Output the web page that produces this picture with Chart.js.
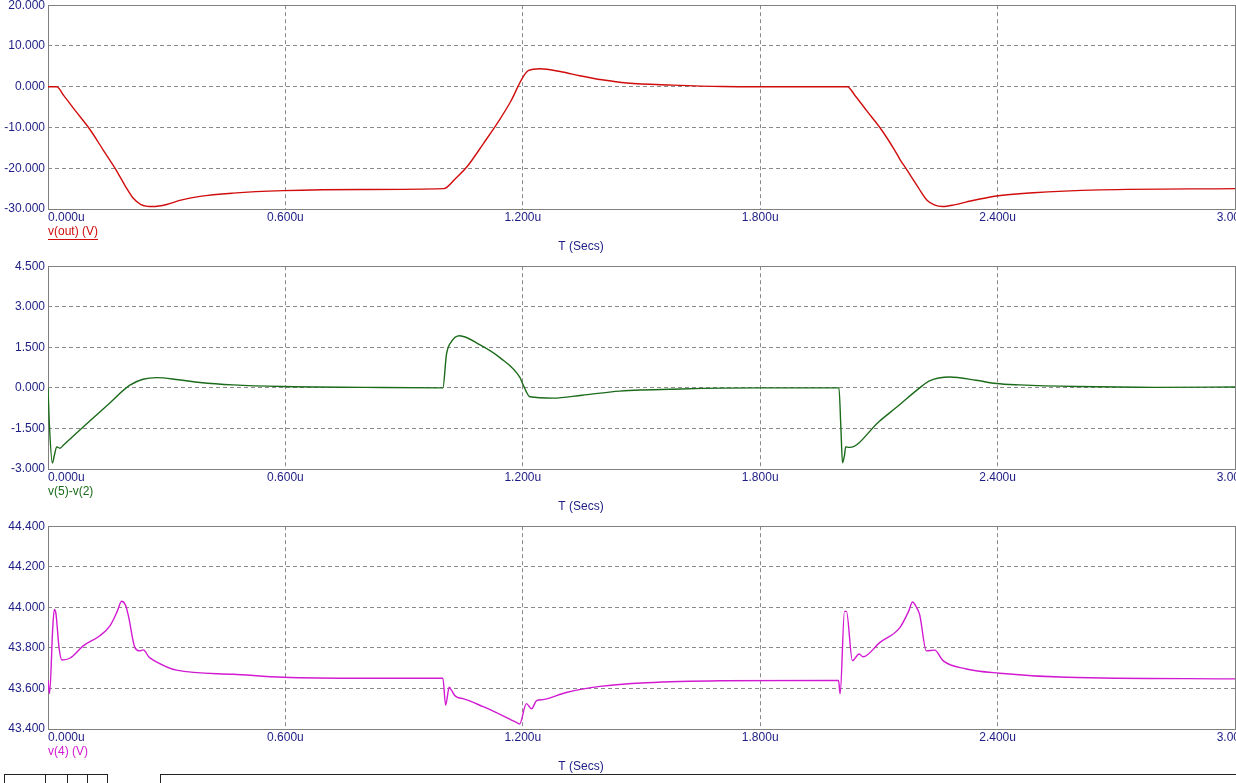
<!DOCTYPE html>
<html>
<head>
<meta charset="utf-8">
<script src="https://cdn.jsdelivr.net/npm/chart.js@4/dist/chart.umd.min.js"></script>
<style>
  html, body { margin: 0; padding: 0; background: #fff; overflow: hidden; width: 1236px; height: 783px; }
  canvas { position: absolute; left: 0; }
  #c1 { top: -5px; }
  #c2 { top: 256px; }
  #c3 { top: 516px; }
  .bar { position: absolute; top: 774px; height: 12px; border: 1px solid #222; box-sizing: border-box; }
</style>
</head>
<body>
<canvas id="c1" width="1300" height="265"></canvas>
<canvas id="c2" width="1300" height="265"></canvas>
<canvas id="c3" width="1300" height="265"></canvas>
<div class="bar" style="left:4px;width:104px;"></div>
<div class="bar" style="left:45px;width:23px;border-top:none;border-bottom:none;"></div>
<div class="bar" style="left:87px;width:1px;border-top:none;border-bottom:none;border-right:none;"></div>
<div class="bar" style="left:160px;width:1080px;"></div>
<script>
// time axis (microseconds)
var xTicks = [0, 0.6, 1.2, 1.8, 2.4, 3.0];

// v(out) (V)
var tOut = [0, 0.022, 0.04, 0.07, 0.106, 0.14, 0.17, 0.195, 0.215, 0.235, 0.265, 0.3, 0.333, 0.384, 0.468, 0.594, 0.8, 1.0,
            1.03, 1.06, 1.1, 1.142, 1.17, 1.2, 1.215, 1.243, 1.3, 1.344, 1.4, 1.463, 1.58, 1.705, 1.8, 2.0,
            2.02, 2.04, 2.07, 2.106, 2.14, 2.153, 2.17, 2.2, 2.223, 2.24, 2.261, 2.29, 2.32, 2.397, 2.49, 2.66, 3.0];
var vOut = [0, 0, -2.2, -6.0, -10.5, -15.6, -20.1, -24.3, -27.3, -28.9, -29.4, -28.9, -27.9, -26.9, -26.1, -25.5, -25.2, -25,
            -22.5, -19.5, -14, -8, -3.5, 2.3, 4.0, 4.4, 3.6, 2.7, 1.7, 0.9, 0.4, 0.05, 0, 0,
            0, -2.2, -6.0, -10.5, -15.6, -17.8, -20.3, -24.8, -28, -29, -29.4, -29, -28.3, -26.8, -26, -25.3, -25];
var yTicksOut = [-30, -20, -10, 0, 10, 20];

// v(5)-v(2)
var tDiff = [0, 0.004, 0.011, 0.016, 0.022, 0.03, 0.04, 0.1, 0.15, 0.207, 0.24, 0.275, 0.33, 0.384, 0.468, 0.594, 0.8, 0.998,
             1.007, 1.02, 1.04, 1.091, 1.142, 1.193, 1.2, 1.218, 1.277, 1.35, 1.445, 1.6, 1.8, 1.999,
             2.004, 2.008, 2.013, 2.016, 2.026, 2.1, 2.15, 2.203, 2.228, 2.279, 2.346, 2.397, 2.456, 2.6, 2.8, 3.0];
var vDiff = [0, -1.5, -2.78, -2.5, -2.18, -2.23, -2.1, -1.3, -0.64, 0.1, 0.32, 0.38, 0.3, 0.2, 0.11, 0.05, 0.02, 0,
             1.23, 1.72, 1.93, 1.6, 1.12, 0.38, 0.14, -0.33, -0.38, -0.27, -0.12, -0.04, 0, 0,
             -1.5, -2.77, -2.5, -2.18, -2.2, -1.25, -0.65, 0, 0.26, 0.4, 0.28, 0.16, 0.11, 0.05, 0.02, 0.03];
var yTicksDiff = [-3, -1.5, 0, 1.5, 3, 4.5];

// v(4) (V)
var tV4 = [0, 0.004, 0.012, 0.016, 0.02, 0.028, 0.035, 0.056, 0.089, 0.131, 0.157, 0.175, 0.186, 0.196, 0.203, 0.22, 0.232,
           0.241, 0.255, 0.266, 0.325, 0.468, 0.594, 0.8, 0.998,
           1.005, 1.014, 1.02, 1.028, 1.037, 1.049, 1.1, 1.15, 1.188, 1.192, 1.209, 1.222, 1.235, 1.251, 1.31, 1.395, 1.512, 1.7, 1.998,
           2.002, 2.013, 2.018, 2.033, 2.05, 2.06, 2.102, 2.153, 2.175, 2.185, 2.195, 2.203, 2.22, 2.241, 2.262, 2.321, 2.405, 2.574, 3.0];
var vV4 = [43.64, 43.575, 43.9, 43.99, 43.97, 43.8, 43.74, 43.75, 43.81, 43.86, 43.91, 43.98, 44.03, 44.01, 43.96, 43.80, 43.785,
           43.79, 43.755, 43.74, 43.69, 43.67, 43.655, 43.65, 43.65,
           43.517, 43.606, 43.59, 43.565, 43.554, 43.55, 43.51, 43.465, 43.428, 43.425, 43.525, 43.5, 43.54, 43.545, 43.58, 43.61, 43.628, 43.638, 43.64,
           43.573, 43.98, 43.98, 43.737, 43.77, 43.756, 43.826, 43.9, 43.98, 44.026, 44.0, 43.964, 43.785, 43.789, 43.737, 43.696, 43.675, 43.655, 43.647];
var yTicksV4 = [43.4, 43.6, 43.8, 44.0, 44.2, 44.4];

var navy = '#1c1c84';
var font = { family: "'Liberation Sans', Arial, sans-serif", size: 12 };

function toPoints(ts, vs) {
    return ts.map(function (t, i) { return { x: t, y: vs[i] }; });
}

// frame around the plot and the labels under it
var decor = {
    id: 'decor',
    beforeDatasetsDraw: function (chart) {
        var a = chart.chartArea, ctx = chart.ctx;
        ctx.save();
        ctx.strokeStyle = '#808080';
        ctx.lineWidth = 1;
        ctx.strokeRect(Math.round(a.left) + 0.5, Math.round(a.top) + 0.5, Math.round(a.right - a.left), Math.round(a.bottom - a.top));
        ctx.restore();
    },
    afterDraw: function (chart, args, opts) {
        var a = chart.chartArea, ctx = chart.ctx, xs = chart.scales.x;
        ctx.save();
        ctx.font = '12px ' + font.family;
        ctx.textBaseline = 'middle';
        ctx.fillStyle = navy;
        xs.ticks.forEach(function (tk, i) {
            ctx.textAlign = i === 0 ? 'left' : 'center';
            ctx.fillText(tk.value.toFixed(3) + 'u', xs.getPixelForValue(tk.value), a.bottom + 9);
        });
        ctx.textAlign = 'center';
        ctx.fillText('T (Secs)', 581, a.bottom + 38);
        ctx.textAlign = 'left';
        ctx.fillStyle = opts.color;
        ctx.fillText(opts.name, a.left, a.bottom + 23);
        if (opts.underline) {
            var w = ctx.measureText(opts.name).width;
            ctx.fillRect(a.left, a.bottom + 30, w, 1);
        }
        ctx.restore();
    }
};

function makePanel(id, ts, vs, color, yTicks, name, underline, axisH) {
    return new Chart(document.getElementById(id).getContext('2d'), {
        type: 'line',
        data: {
            datasets: [{
                data: toPoints(ts, vs),
                borderColor: color,
                borderWidth: 1.4,
                pointRadius: 0,
                cubicInterpolationMode: 'monotone',
                fill: false
            }]
        },
        options: {
            responsive: false,
            animation: false,
            layout: { padding: { top: 8, left: 0, right: 65, bottom: 0 } },
            plugins: {
                legend: { display: false },
                tooltip: { enabled: false },
                decor: { name: name, color: color, underline: underline }
            },
            scales: {
                x: {
                    type: 'linear',
                    min: 0,
                    max: 3,
                    afterBuildTicks: function (axis) { axis.ticks = xTicks.map(function (v) { return { value: v }; }); },
                    afterFit: function (axis) { axis.height = axisH; },
                    ticks: { display: false },
                    grid: {
                        drawTicks: false,
                        color: function (c) { return (c.tick && (c.tick.value === 0 || c.tick.value === 3)) ? 'rgba(0,0,0,0)' : '#8a8a8a'; }
                    },
                    border: { display: false, dash: [4, 3] }
                },
                y: {
                    min: yTicks[0],
                    max: yTicks[yTicks.length - 1],
                    afterBuildTicks: function (axis) { axis.ticks = yTicks.map(function (v) { return { value: v }; }); },
                    afterFit: function (axis) { axis.width = 48; },
                    ticks: {
                        padding: 3,
                        color: navy,
                        font: font,
                        callback: function (v) { return Number(v).toFixed(3); }
                    },
                    grid: {
                        drawTicks: false,
                        color: function (c) { return (c.index === 0 || c.index === yTicks.length - 1) ? 'rgba(0,0,0,0)' : '#8a8a8a'; }
                    },
                    border: { display: false, dash: [4, 3] }
                }
            }
        },
        plugins: [decor]
    });
}

makePanel('c1', tOut, vOut, '#d00c0c', yTicksOut, 'v(out) (V)', true, 51);
makePanel('c2', tDiff, vDiff, '#1b6b1b', yTicksDiff, 'v(5)-v(2)', false, 52);
makePanel('c3', tV4, vV4, '#d21ad2', yTicksV4, 'v(4) (V)', false, 52);
</script>
</body>
</html>
